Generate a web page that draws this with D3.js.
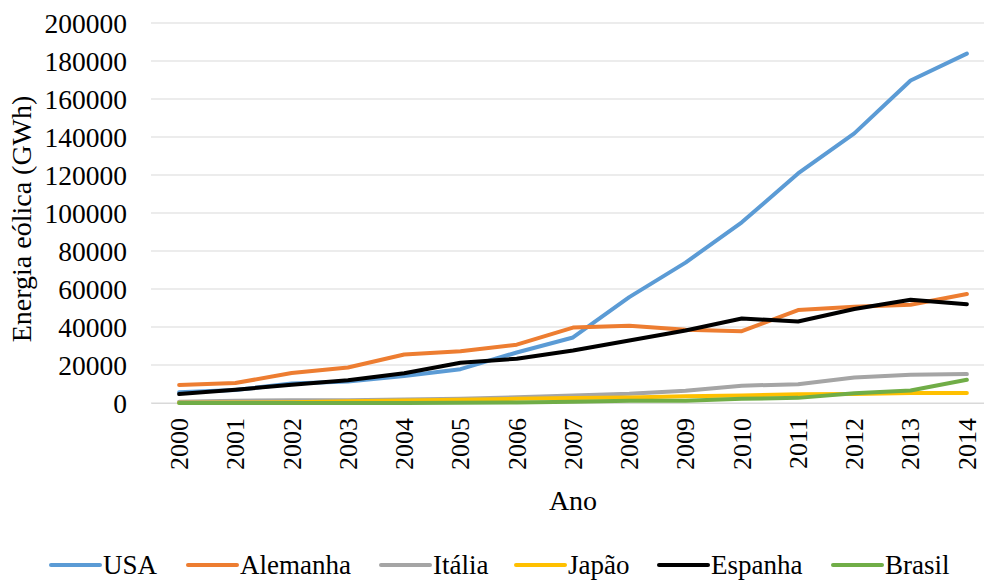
<!DOCTYPE html>
<html>
<head>
<meta charset="utf-8">
<script src="https://cdn.jsdelivr.net/npm/d3@7"></script>
<style>
  html, body { margin: 0; padding: 0; background: #fff; }
</style>
</head>
<body>
<svg id="chart" width="984" height="580"></svg>
<script>
// Wind energy generation (GWh) by country, 2000-2014
const years = ["2000","2001","2002","2003","2004","2005","2006","2007","2008","2009","2010","2011","2012","2013","2014"];
const usa      = [5600, 6800, 10300, 11300, 14200, 17800, 26600, 34500, 55700, 73900, 95100, 120800, 141900, 169700, 183900];
const alemanha = [9500, 10500, 15800, 18700, 25500, 27200, 30700, 39700, 40600, 38600, 37800, 48900, 50700, 51700, 57400];
const italia   = [600, 1200, 1400, 1500, 1800, 2300, 3000, 4000, 4900, 6500, 9100, 9900, 13400, 14900, 15200];
const japao    = [100, 250, 400, 900, 1300, 1700, 2200, 2600, 2900, 3600, 4000, 4600, 4800, 5200, 5200];
const espanha  = [4700, 7000, 9600, 12000, 15700, 21200, 23300, 27600, 32900, 38200, 44500, 42900, 49500, 54300, 52000];
const brasil   = [0, 40, 60, 60, 60, 90, 240, 660, 1200, 1200, 2200, 2700, 5100, 6600, 12200];
const yTicks   = [0, 20000, 40000, 60000, 80000, 100000, 120000, 140000, 160000, 180000, 200000];

const seriesNames  = ["USA", "Alemanha", "Itália", "Japão", "Espanha", "Brasil"];
const seriesValues = [usa, alemanha, italia, japao, espanha, brasil];
const seriesColors = ["#5B9BD5", "#ED7D31", "#A5A5A5", "#FFC000", "#000000", "#70AD47"];

const FONT = "'Liberation Serif'";
const svg = d3.select("#chart");
const plot = { left: 151, right: 995, top: 23, bottom: 403 };

const x = d3.scaleBand().domain(years).range([plot.left, plot.right]);
const y = d3.scaleLinear().domain([0, 200000]).range([plot.bottom, plot.top]);

// Horizontal gridlines
svg.append("g")
  .selectAll("line")
  .data(yTicks)
  .join("line")
  .attr("x1", plot.left).attr("x2", plot.right)
  .attr("y1", d => y(d)).attr("y2", d => y(d))
  .attr("stroke", "#d9d9d9").attr("stroke-width", 1);

// Y axis labels
const yAxis = svg.append("g")
  .attr("transform", `translate(${plot.left - 24},0)`)
  .call(d3.axisLeft(y).tickValues(yTicks).tickSize(0).tickPadding(0).tickFormat(d3.format("d")));
yAxis.select(".domain").remove();
yAxis.attr("font-family", null).attr("font-size", null);
yAxis.selectAll("text")
  .style("font-size", "27.5px")
  .attr("dy", "0.34em");

// X axis labels (rotated)
const xAxis = svg.append("g")
  .attr("transform", `translate(0,${plot.bottom})`)
  .call(d3.axisBottom(x).tickSize(0).tickPadding(0));
xAxis.attr("font-family", null).attr("font-size", null);
xAxis.select(".domain").attr("stroke", "#d9d9d9");
xAxis.selectAll("text")
  .style("font-size", "26px")
  .attr("text-anchor", "end")
  .attr("transform", "rotate(-90)")
  .attr("x", -15)
  .attr("y", 0)
  .attr("dy", "0.34em");

// Axis titles
svg.append("text")
  .attr("transform", `translate(31,219) rotate(-90)`)
  .attr("text-anchor", "middle")
  .style("font-size", "28px")
  .text("Energia eólica (GWh)");

svg.append("text")
  .attr("x", (plot.left + plot.right) / 2)
  .attr("y", 510)
  .attr("text-anchor", "middle")
  .style("font-size", "28px")
  .text("Ano");

// Series lines
const line = d3.line()
  .x((d, i) => x(years[i]) + x.bandwidth() / 2)
  .y(d => y(d));

svg.append("g")
  .selectAll("path")
  .data(seriesValues)
  .join("path")
  .attr("d", d => line(d))
  .attr("fill", "none")
  .attr("stroke", (d, i) => seriesColors[i])
  .attr("stroke-width", 4)
  .attr("stroke-linejoin", "round")
  .attr("stroke-linecap", "round");

// Legend
const legendX = [50, 187, 380, 515, 658, 832];
const legend = svg.append("g")
  .selectAll("g")
  .data(seriesNames)
  .join("g")
  .attr("transform", (d, i) => `translate(${legendX[i]},565)`);
legend.append("line")
  .attr("x1", 1).attr("x2", 50)
  .attr("y1", 0).attr("y2", 0)
  .attr("stroke", (d, i) => seriesColors[i])
  .attr("stroke-width", 4)
  .attr("stroke-linecap", "round");
legend.append("text")
  .attr("x", 53)
  .attr("y", 9)
  .style("font-size", "27px")
  .text(d => d);

svg.selectAll("text").style("font-family", FONT).attr("fill", "#000");
</script>
</body>
</html>
